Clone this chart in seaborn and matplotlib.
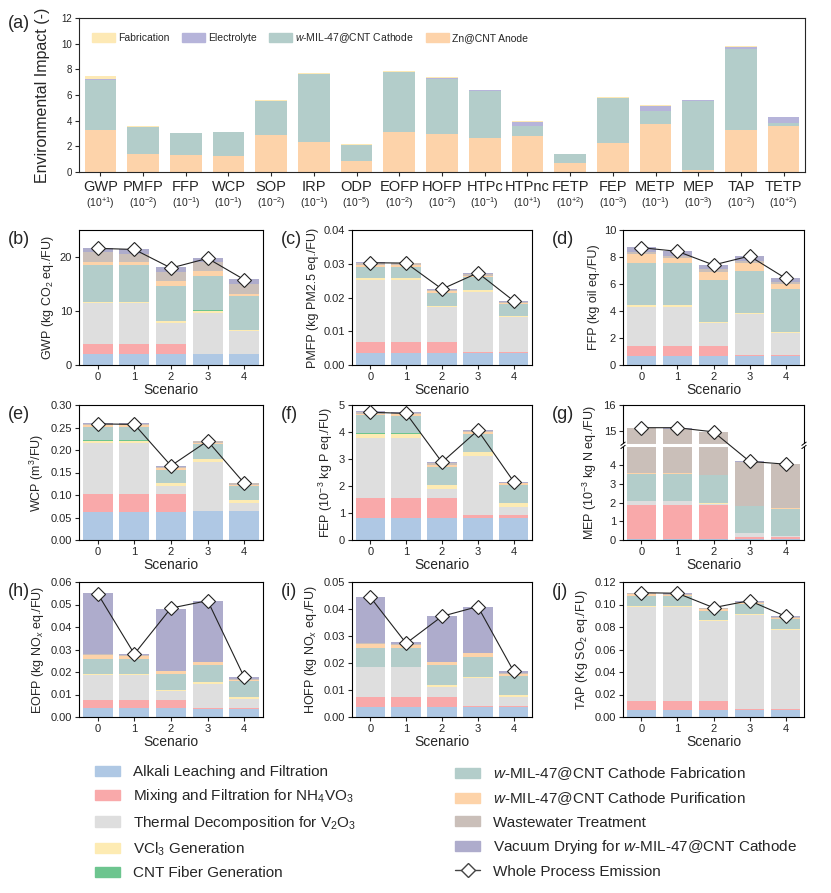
import numpy as np
import matplotlib
matplotlib.use('Agg')
import matplotlib.pyplot as plt
import seaborn as sns
from matplotlib import font_manager
from matplotlib.patches import Patch
from matplotlib.lines import Line2D
from matplotlib.ticker import FormatStrFormatter

# ------------------------------------------------------------
# panel (a) - normalised impact of each battery component
# ------------------------------------------------------------
categories = ['GWP', 'PMFP', 'FFP', 'WCP', 'SOP', 'IRP', 'ODP', 'EOFP', 'HOFP',
              'HTPc', 'HTPnc', 'FETP', 'FEP', 'METP', 'MEP', 'TAP', 'TETP']
exponents = ['+1', '-2', '-1', '-1', '-2', '-1', '-5', '-2', '-2',
             '-1', '+1', '+2', '-3', '-1', '-3', '-2', '+2']
anode = [3.28, 1.41, 1.33, 1.25, 2.92, 2.37, 0.86, 3.12, 2.97,
         2.66, 2.84, 0.70, 2.27, 3.75, 0.16, 3.28, 3.62]
cathode = [3.90, 2.10, 1.68, 1.86, 2.58, 5.25, 1.25, 4.65, 4.30,
           3.65, 0.75, 0.70, 3.48, 1.04, 5.41, 6.30, 0.18]
electrolyte = [0.05, 0.03, 0.02, 0.01, 0.05, 0.05, 0.02, 0.05, 0.05,
               0.05, 0.33, 0.01, 0.04, 0.37, 0.01, 0.18, 0.50]
fabrication = [0.22, 0.05, 0.04, 0.01, 0.06, 0.03, 0.06, 0.06, 0.07,
               0.04, 0.02, 0.01, 0.05, 0.06, 0.01, 0.07, 0.02]

# ------------------------------------------------------------
# panels (b)-(j) - process contributions per scenario
# layer order bottom -> top: alkali, mixing, thermal, VCl3, CNT,
# cathode fab, purification, wastewater, vacuum drying
# ------------------------------------------------------------
scenarios = [0, 1, 2, 3, 4]

gwp = [[2.04, 2.04, 2.04, 2.04, 2.04],
       [1.86, 1.86, 1.86, 0.05, 0.05],
       [7.56, 7.56, 3.84, 7.63, 4.16],
       [0.24, 0.24, 0.36, 0.37, 0.25],
       [0.02, 0.02, 0.02, 0.02, 0.02],
       [6.78, 6.78, 6.55, 6.42, 6.30],
       [0.63, 0.63, 0.81, 0.81, 0.37],
       [1.80, 1.45, 1.72, 1.66, 1.86],
       [0.80, 0.85, 0.88, 0.87, 0.85]]
gwp_total = [21.6, 21.4, 17.96, 19.75, 15.8]

pmfp = [[0.0035, 0.0035, 0.0035, 0.0035, 0.0035],
        [0.0034, 0.0034, 0.0034, 0.0003, 0.0003],
        [0.0182, 0.0182, 0.0102, 0.0179, 0.0104],
        [0.0006, 0.0006, 0.0005, 0.0006, 0.0003],
        [0.0, 0.0, 0.0, 0.0, 0.0],
        [0.0034, 0.0034, 0.0037, 0.0037, 0.0037],
        [0.0005, 0.0005, 0.0005, 0.0005, 0.0003],
        [0.0005, 0.0005, 0.0005, 0.0005, 0.0003],
        [0.0004, 0.0002, 0.0003, 0.0003, 0.0003]]
pmfp_total = [0.0303, 0.0302, 0.0225, 0.0273, 0.0190]

ffp = [[0.69, 0.69, 0.69, 0.69, 0.69],
       [0.74, 0.74, 0.74, 0.07, 0.07],
       [2.89, 2.89, 1.66, 2.99, 1.64],
       [0.12, 0.12, 0.10, 0.10, 0.07],
       [0.01, 0.01, 0.01, 0.01, 0.01],
       [3.13, 3.13, 3.10, 3.10, 3.15],
       [0.67, 0.37, 0.61, 0.62, 0.37],
       [0.15, 0.15, 0.18, 0.15, 0.12],
       [0.32, 0.34, 0.34, 0.34, 0.35]]
ffp_total = [8.69, 8.42, 7.41, 8.07, 6.42]

wcp = [[0.063, 0.063, 0.063, 0.064, 0.064],
       [0.039, 0.039, 0.039, 0.0015, 0.0015],
       [0.113, 0.113, 0.019, 0.107, 0.0165],
       [0.006, 0.006, 0.006, 0.0074, 0.0076],
       [0.0002, 0.0002, 0.0002, 0.0002, 0.0002],
       [0.031, 0.031, 0.0285, 0.0325, 0.0302],
       [0.0035, 0.003, 0.0035, 0.003, 0.003],
       [0.003, 0.0025, 0.004, 0.0035, 0.003],
       [0.0015, 0.0015, 0.0012, 0.0015, 0.0012]]
wcp_total = [0.258, 0.257, 0.165, 0.220, 0.126]

fep = [[0.83, 0.83, 0.83, 0.83, 0.83],
       [0.74, 0.74, 0.74, 0.10, 0.10],
       [2.21, 2.21, 0.32, 2.19, 0.30],
       [0.16, 0.16, 0.16, 0.15, 0.15],
       [0.005, 0.005, 0.005, 0.005, 0.005],
       [0.68, 0.66, 0.64, 0.66, 0.64],
       [0.06, 0.05, 0.09, 0.06, 0.07],
       [0.05, 0.05, 0.05, 0.05, 0.03],
       [0.04, 0.03, 0.06, 0.03, 0.03]]
fep_total = [4.73, 4.69, 2.88, 4.06, 2.16]

mep = [[0.05, 0.05, 0.05, 0.05, 0.05],
       [1.85, 1.85, 1.85, 0.10, 0.10],
       [0.18, 0.18, 0.05, 0.20, 0.05],
       [0.02, 0.02, 0.02, 0.05, 0.03],
       [0.0, 0.0, 0.0, 0.0, 0.0],
       [1.45, 1.45, 1.50, 1.40, 1.45],
       [0.02, 0.02, 0.02, 0.02, 0.02],
       [11.55, 11.52, 11.47, 2.39, 2.37],
       [0.01, 0.01, 0.01, 0.01, 0.01]]
mep_total = [15.13, 15.13, 14.97, 4.22, 4.07]

eofp = [[0.004, 0.004, 0.004, 0.0035, 0.0035],
        [0.0037, 0.0037, 0.0037, 0.0006, 0.0006],
        [0.0111, 0.0111, 0.004, 0.0106, 0.0039],
        [0.0005, 0.0005, 0.0004, 0.0007, 0.0007],
        [0.0, 0.0, 0.0, 0.0, 0.0],
        [0.0066, 0.0066, 0.007, 0.0076, 0.0072],
        [0.0018, 0.0012, 0.0012, 0.0013, 0.0007],
        [0.0003, 0.0004, 0.0003, 0.0003, 0.0003],
        [0.0271, 0.0006, 0.0275, 0.0271, 0.001]]
eofp_total = [0.0548, 0.0280, 0.0484, 0.0517, 0.0176]

hofp = [[0.0037, 0.0037, 0.0037, 0.0038, 0.0038],
        [0.0038, 0.0038, 0.0038, 0.0003, 0.0003],
        [0.0109, 0.0109, 0.0037, 0.0103, 0.0032],
        [0.0003, 0.0003, 0.0008, 0.0006, 0.0007],
        [0.0, 0.0, 0.0, 0.0, 0.0],
        [0.007, 0.007, 0.0071, 0.0072, 0.0073],
        [0.0014, 0.0009, 0.0011, 0.0014, 0.0006],
        [0.0003, 0.0003, 0.0003, 0.0002, 0.0003],
        [0.0171, 0.0007, 0.017, 0.0171, 0.0008]]
hofp_total = [0.0444, 0.0273, 0.0373, 0.0409, 0.0169]

tap = [[0.0065, 0.0065, 0.0065, 0.0065, 0.0065],
       [0.008, 0.008, 0.008, 0.0003, 0.0003],
       [0.083, 0.083, 0.0705, 0.0842, 0.0705],
       [0.0009, 0.0009, 0.0009, 0.0009, 0.0009],
       [0.0, 0.0, 0.0, 0.0, 0.0],
       [0.0089, 0.0089, 0.0083, 0.0085, 0.0092],
       [0.002, 0.0012, 0.0015, 0.0012, 0.0009],
       [0.0006, 0.0008, 0.0009, 0.0009, 0.0006],
       [0.0006, 0.0008, 0.0006, 0.0009, 0.0006]]
tap_total = [0.1105, 0.1100, 0.0972, 0.1034, 0.0895]

process_names = ['Alkali Leaching and Filtration',
                 'Mixing and Filtration for NH$_4$VO$_3$',
                 'Thermal Decomposition for V$_2$O$_3$',
                 'VCl$_3$ Generation',
                 'CNT Fiber Generation',
                 '$\\mathit{w}$-MIL-47@CNT Cathode Fabrication',
                 '$\\mathit{w}$-MIL-47@CNT Cathode Purification',
                 'Wastewater Treatment',
                 'Vacuum Drying for $\\mathit{w}$-MIL-47@CNT Cathode']
process_colors = ['#AFC8E4', '#F9A9AA', '#DEDEDE', '#FDEBB3', '#6DC58F',
                  '#B3CDCA', '#FDD3A9', '#CABFB9', '#AEACCC']

# ------------------------------------------------------------
# style
# ------------------------------------------------------------
sns.set_style('ticks')
plt.rcParams['font.family'] = ['Liberation Sans', 'DejaVu Sans']
plt.rcParams['mathtext.fontset'] = 'custom'
plt.rcParams['mathtext.rm'] = 'Liberation Sans'
plt.rcParams['mathtext.it'] = 'Liberation Sans:italic'
plt.rcParams['axes.linewidth'] = 0.8
plt.rcParams['xtick.major.size'] = 3
plt.rcParams['ytick.major.size'] = 3
plt.rcParams['xtick.major.width'] = 0.8
plt.rcParams['ytick.major.width'] = 0.8

installed = {f.name for f in font_manager.fontManager.ttflist}
legend_font = 'Liberation Sans Narrow' if 'Liberation Sans Narrow' in installed else 'Liberation Sans'

W, H = 831, 893
fig = plt.figure(figsize=(W / 100, H / 100), dpi=100)


def box(x0, x1, y0, y1):
    # pixel box -> figure fraction rect
    return [x0 / W, 1 - y1 / H, (x1 - x0) / W, (y1 - y0) / H]


def stack_bars(ax, x, layers, colors, width):
    bottom = np.zeros(len(x))
    for vals, c in zip(layers, colors):
        sns.barplot(x=x, y=vals, bottom=bottom, color=c, width=width,
                    saturation=1, linewidth=0, edgecolor='none',
                    errorbar=None, ax=ax)
        bottom = bottom + np.asarray(vals)


# ------------------------------------------------------------
# (a)
# ------------------------------------------------------------
ax = fig.add_axes(box(79, 805, 18, 172))
a_layers = [anode, cathode, electrolyte, fabrication]
a_colors = ['#FDD3AA', '#B3CDCA', '#B6B4DA', '#FDE9B5']
stack_bars(ax, categories, a_layers, a_colors, 0.74)
ax.set_xlim(-0.5, 16.5)
ax.set_ylim(0, 12)
ax.set_yticks(range(0, 13, 2))
ax.tick_params(axis='y', labelsize=7, pad=2)
ax.tick_params(axis='x', labelsize=10.5, pad=3)
ax.set_ylabel('Environmental Impact (-)', fontsize=11.5, labelpad=8)
ax.set_xlabel('')
for i, e in enumerate(exponents):
    ax.annotate('(10$^{%s}$)' % e, xy=(i, -0.2), xycoords=('data', 'axes fraction'),
                ha='center', va='center', fontsize=7.5)
a_handles = [Patch(color=c) for c in a_colors[::-1]]
a_labels = ['Fabrication', 'Electrolyte', '$\\mathit{w}$-MIL-47@CNT Cathode', 'Zn@CNT Anode']
ax.legend(a_handles, a_labels, ncol=4, loc='upper left', bbox_to_anchor=(0.012, 0.94),
          frameon=False, fontsize=7.5, handlelength=2.2, handleheight=0.9,
          handletextpad=0.3, columnspacing=1.2, borderaxespad=0)
fig.text(8 / W, 1 - 24 / H, '(a)', fontsize=13, va='center')

# ------------------------------------------------------------
# (b)-(j)
# ------------------------------------------------------------
cols = [(79, 263), (352, 532), (623, 804)]
rows = [(230, 365), (405, 540), (582, 717)]
letter_x = [8, 281, 552]

panels = [
    ('b', gwp, gwp_total, 'GWP (kg CO$_2$ eq./FU)', (0, 25), [0, 10, 20], None),
    ('c', pmfp, pmfp_total, 'PMFP (kg PM2.5 eq./FU)', (0, 0.04), [0, 0.01, 0.02, 0.03, 0.04], '%.2f'),
    ('d', ffp, ffp_total, 'FFP (kg oil eq./FU)', (0, 10), [0, 2, 4, 6, 8, 10], None),
    ('e', wcp, wcp_total, 'WCP (m$^3$/FU)', (0, 0.30), [0, 0.05, 0.10, 0.15, 0.20, 0.25, 0.30], '%.2f'),
    ('f', fep, fep_total, 'FEP (10$^{-3}$ kg P eq./FU)', (0, 5), [0, 1, 2, 3, 4, 5], None),
    ('g', mep, mep_total, 'MEP (10$^{-3}$ kg N eq./FU)', (0, 16), [0, 1, 2, 3, 4, 15, 16], None),
    ('h', eofp, eofp_total, 'EOFP (kg NO$_x$ eq./FU)', (0, 0.06), [0, 0.01, 0.02, 0.03, 0.04, 0.05, 0.06], '%.2f'),
    ('i', hofp, hofp_total, 'HOFP (kg NO$_x$ eq./FU)', (0, 0.05), [0, 0.01, 0.02, 0.03, 0.04, 0.05], '%.2f'),
    ('j', tap, tap_total, 'TAP (Kg SO$_2$ eq./FU)', (0, 0.12), [0, 0.02, 0.04, 0.06, 0.08, 0.10, 0.12], '%.2f'),
]

# broken axis for MEP
LO, HI, K, EPS = 5.08, 14.46, 1.4, 1e-3


def brk_fwd(y):
    y = np.asarray(y, dtype=float)
    mid = LO + (y - LO) * EPS
    top = LO + (HI - LO) * EPS + (y - HI) * K
    return np.where(y <= LO, y, np.where(y >= HI, top, mid))


def brk_inv(z):
    z = np.asarray(z, dtype=float)
    z1 = LO + (HI - LO) * EPS
    return np.where(z <= LO, z, np.where(z >= z1, HI + (z - z1) / K, LO + (z - LO) / EPS))


for n, (letter, layers, total, ylabel, ylim, yticks, fmt) in enumerate(panels):
    r, c = divmod(n, 3)
    x0, x1 = cols[c]
    y0, y1 = rows[r]
    ax = fig.add_axes(box(x0, x1, y0, y1))
    stack_bars(ax, scenarios, layers, process_colors, 0.82)
    sns.lineplot(x=scenarios, y=total, color='#222222', lw=0.8, marker='D',
                 markersize=7, markerfacecolor='white', markeredgecolor='#222222',
                 markeredgewidth=0.8, ax=ax, zorder=6)
    if letter == 'g':
        ax.set_yscale('function', functions=(brk_fwd, brk_inv))
    ax.set_xlim(-0.51, 4.51)
    ax.set_ylim(*ylim)
    ax.set_yticks(yticks)
    if fmt:
        ax.yaxis.set_major_formatter(FormatStrFormatter(fmt))
    else:
        ax.yaxis.set_major_formatter(FormatStrFormatter('%d'))
    ax.tick_params(labelsize=8, pad=2)
    ax.set_xlabel('Scenario', fontsize=10, labelpad=1)
    ax.set_ylabel(ylabel, fontsize=9, labelpad=3)
    for s in ax.spines.values():
        s.set_visible(True)
        s.set_color('black')
    if letter == 'g':
        ax.axhline(LO, color='white', lw=2.2, zorder=5, clip_on=False)
        yb = (ax.transScale + ax.transLimits).transform((0, LO))[1]
        for xe in (0, 1):
            for dy in (-0.012, 0.012):
                ax.plot([xe - 0.012, xe + 0.012], [yb + dy - 0.012, yb + dy + 0.012],
                        transform=ax.transAxes, color='black', lw=0.7,
                        clip_on=False, zorder=7)
    fig.text(letter_x[c] / W, 1 - (y0 + 9) / H, '(%s)' % letter, fontsize=13, va='center')

# ------------------------------------------------------------
# bottom legend
# ------------------------------------------------------------
line_handle = Line2D([], [], color='#444444', lw=1, marker='D', markersize=7,
                     markerfacecolor='white', markeredgecolor='#444444')
handles = [Patch(color=c) for c in process_colors]
leg_kw = dict(frameon=False, loc='upper left', borderaxespad=0, borderpad=0,
              handlelength=1.65, handleheight=0.65, handletextpad=0.85,
              labelspacing=0.55, prop={'family': [legend_font, 'DejaVu Sans'], 'size': 11})
fig.legend(handles[:5], process_names[:5], bbox_to_anchor=(95 / W, 1 - 765 / H), **leg_kw)
fig.legend(handles[5:] + [line_handle], process_names[5:] + ['Whole Process Emission'],
           bbox_to_anchor=(455 / W, 1 - 765 / H), **leg_kw)

fig.savefig('out.png', dpi=100)
